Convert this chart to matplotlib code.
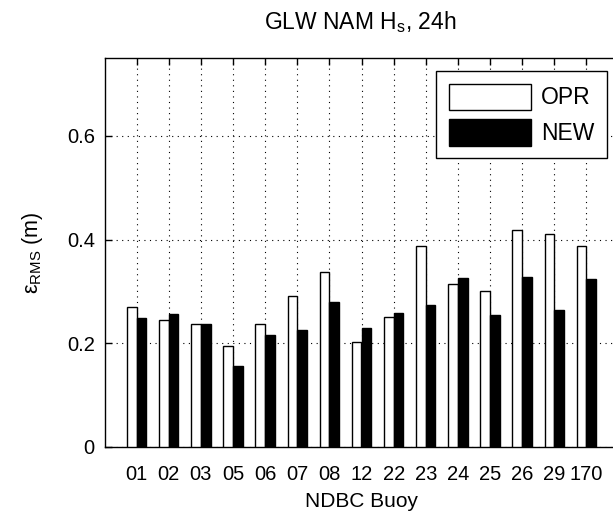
import numpy as np
import matplotlib
matplotlib.use('Agg')
import matplotlib.pyplot as plt

plt.rcParams['font.family'] = ['Liberation Sans', 'DejaVu Sans']
plt.rcParams['mathtext.fontset'] = 'custom'
plt.rcParams['mathtext.rm'] = 'Liberation Sans'
plt.rcParams['mathtext.it'] = 'Liberation Sans'

# buoy labels and RMS error (m)
buoys = ['01', '02', '03', '05', '06', '07', '08', '12', '22', '23', '24', '25', '26', '29', '170']
opr = [0.269, 0.245, 0.237, 0.195, 0.237, 0.291, 0.338, 0.202, 0.251, 0.387, 0.315, 0.301, 0.419, 0.411, 0.387]
new = [0.249, 0.257, 0.237, 0.156, 0.215, 0.225, 0.280, 0.230, 0.259, 0.274, 0.326, 0.254, 0.328, 0.264, 0.323]

W = 613
fig = plt.figure(figsize=(W/100, 5.22), dpi=100)
# axes runs a bit past the right side of the figure (cropped like the original)
ax = fig.add_axes([104.5/W, 1-446.7/522, 514/W, 388.4/522])

x = np.arange(1, len(buoys)+1)
w = 0.3
ax.bar(x-w/2, opr, w, color='white', edgecolor='black', linewidth=1.0, label='OPR', zorder=3)
ax.bar(x+w/2, new, w, color='black', edgecolor='black', linewidth=1.0, label='NEW', zorder=3)

ax.set_xlim(0, 16)
ax.set_ylim(0, 0.75)
ax.set_xticks(x)
ax.set_xticklabels(buoys)
ax.set_yticks([0, 0.2, 0.4, 0.6])
ax.set_yticklabels(['0', '0.2', '0.4', '0.6'])
ax.tick_params(direction='in', length=5, width=1, labelsize=14.5, top=True, right=False)
ax.tick_params(axis='x', pad=13)
ax.tick_params(axis='y', pad=7)
ax.grid(True, linestyle=(0, (1, 4)), color='black', linewidth=0.8, zorder=0)
for s in ax.spines.values():
    s.set_linewidth(1.0)
ax.spines['right'].set_visible(False)

ax.set_xlabel('NDBC Buoy', fontsize=15, labelpad=6)
ax.set_ylabel(r'ε$_{\mathrm{RMS}}$ (m)', fontsize=15.5, labelpad=16)
fig.text(360/W, 1-22/522, r'GLW NAM H$_{s}$, 24h', ha='center', va='center', fontsize=16.5)

leg = ax.legend(loc='upper right', bbox_to_anchor=(606.7/W, 1-71/522),
                bbox_transform=fig.transFigure, borderaxespad=0, fancybox=False,
                edgecolor='black', framealpha=1, fontsize=16.5, handlelength=3.6,
                handleheight=1.4, handletextpad=0.42, borderpad=0.55, labelspacing=0.4)
leg.get_frame().set_linewidth(1.0)

fig.savefig('out.png', dpi=100)
